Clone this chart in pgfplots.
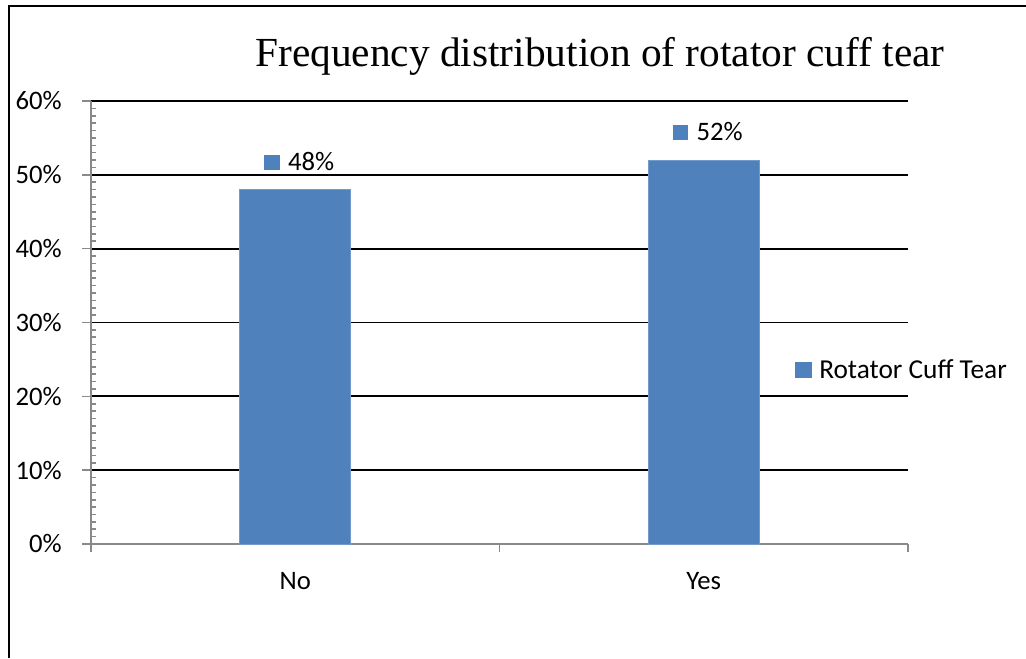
\documentclass[border=0pt]{standalone}
\usepackage{pgfplots}
\pgfplotsset{compat=1.18}
\usepackage{fontspec}
\setmainfont{Carlito}
\newfontfamily\titlefont{Liberation Serif}
\definecolor{barblue}{HTML}{4F81BD}
\definecolor{axisgray}{HTML}{898989}

\begin{document}
\begin{tikzpicture}
\path[use as bounding box] (0pt,0pt) rectangle (769.5pt,493.5pt);
\draw[line width=1.6pt] (6.75pt,0pt) -- (6.75pt,489pt) -- (769.5pt,489pt);
\node[font=\titlefont\fontsize{31}{36}\selectfont] at (450pt,451pt) {Frequency distribution of rotator cuff tear};

\begin{axis}[
    at={(68.25pt,85.5pt)}, anchor=south west,
    scale only axis,
    width=612.75pt, height=332.25pt,
    font=\fontsize{20}{24}\selectfont,
    /pgf/number format/assume math mode=true,
    ybar, bar width=83.25pt,
    xmin=-0.5, xmax=1.5,
    ymin=0, ymax=60,
    xtick={0,1}, xticklabels={No,Yes},
    ytick={0,10,20,30,40,50,60},
    yticklabel={\pgfmathprintnumber{\tick}\%},
    minor y tick num=9,
    axis x line=bottom, axis y line=left,
    axis line style={-, draw=axisgray, line width=1.4pt},
    tick align=outside,
    major tick length=6.5pt,
    minor tick length=3.75pt,
    major x tick style={draw=none},
    ytick style={draw=axisgray, line width=1.2pt},
    minor y tick style={xshift=3.75pt},
    extra x ticks={-0.5,0.5,1.5},
    extra x tick labels={},
    extra x tick style={major x tick style={draw=axisgray, line width=1.2pt}, major tick length=6pt},
    ymajorgrids, grid style={black, line width=1.3pt},
    xticklabel style={yshift=-11pt},
    yticklabel style={xshift=-12pt},
    nodes near coords={\textcolor{barblue}{\rule{11.5pt}{11.5pt}}\hspace{6.5pt}\pgfmathprintnumber{\pgfplotspointmeta}\%},
    every node near coord/.append style={yshift=11pt, xshift=3pt, font=\fontsize{20}{24}\selectfont},
    legend style={at={(rel axis cs:0.857,0.393)}, anchor=west, draw=none, fill=none,
        font=\fontsize{20.5}{24}\selectfont},
    legend image code/.code={\fill[barblue] (0pt,-5.5pt) rectangle (11.5pt,6pt);},
    legend cell align=left,
    legend style={/tikz/every even column/.append style={column sep=0pt}},
]
\addplot[fill=barblue, draw=barblue!80!white] coordinates {(0,48) (1,52)};
\addlegendentry{\hspace{4pt}Rotator Cuff Tear}
\end{axis}
\end{tikzpicture}
\end{document}
